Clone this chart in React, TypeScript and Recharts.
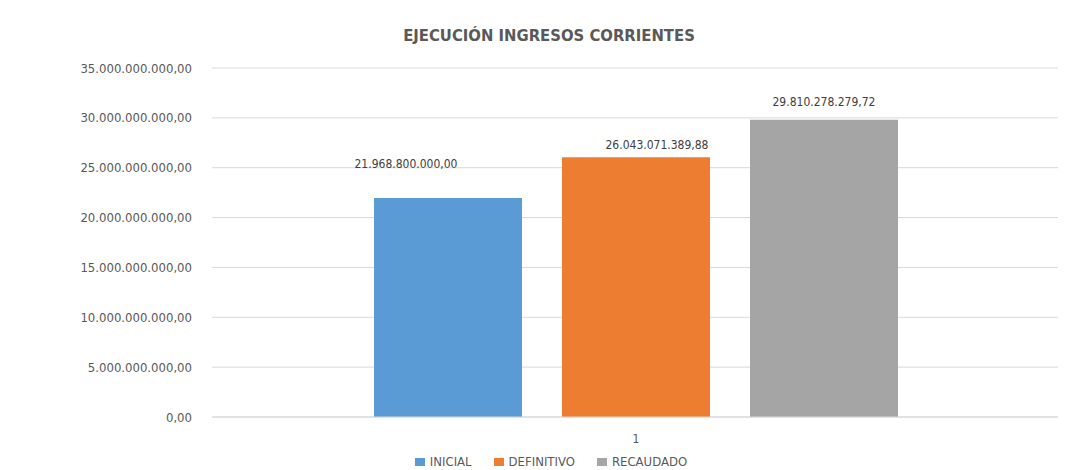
import React from "react";
import {
  Bar,
  BarChart,
  CartesianGrid,
  LabelList,
  Legend,
  XAxis,
  YAxis,
} from "recharts";

const categories = ["1"];
const inicial = [21968800000];
const definitivo = [26043071389.88];
const recaudado = [29810278279.72];
const yTicks = [0, 5e9, 10e9, 15e9, 20e9, 25e9, 30e9, 35e9];

const seriesNames = ["INICIAL", "DEFINITIVO", "RECAUDADO"];
const colors = ["#5b9bd5", "#ed7d31", "#a5a5a5"];

const data = categories.map((c, i) => ({
  name: c,
  INICIAL: inicial[i],
  DEFINITIVO: definitivo[i],
  RECAUDADO: recaudado[i],
}));

const font = "'Liberation Sans Narrow', 'DejaVu Sans Condensed', sans-serif";

function fmt(v: number) {
  const [int, dec] = Number(v).toFixed(2).split(".");
  return int.replace(/\B(?=(\d{3})+(?!\d))/g, ".") + "," + dec;
}

function LegendContent() {
  return (
    <div
      style={{
        display: "flex",
        justifyContent: "center",
        gap: 22,
        fontFamily: font,
        fontSize: 13,
        color: "#595959",
        paddingLeft: 34,
      }}
    >
      {seriesNames.map((n, i) => (
        <span key={n} style={{ display: "flex", alignItems: "center" }}>
          <span
            style={{
              width: 10,
              height: 8,
              background: colors[i],
              display: "inline-block",
              marginRight: 5,
            }}
          />
          {n}
        </span>
      ))}
    </div>
  );
}

// label placement as in the original (some labels sit off-centre)
const labelOffsets = [30, 8, 14];
const labelShift = [-42, 21, 0];

function makeLabel(i: number) {
  return (props: any) => {
    const { x, y, width, value } = props;
    return (
      <text
        x={Number(x) + Number(width) / 2 + labelShift[i]}
        y={Number(y) - labelOffsets[i]}
        textAnchor="middle"
        fontSize={12}
        fill="#404040"
        fontFamily={font}
      >
        {fmt(Number(value))}
      </text>
    );
  };
}

export default function App() {
  return (
    <div style={{ position: "relative", width: 1058, height: 462 }}>
      <div
        style={{
          position: "absolute",
          top: 18,
          left: 0,
          width: 1082,
          textAlign: "center",
          fontFamily: font,
          fontSize: 16.5,
          fontWeight: "bold",
          color: "#595959",
        }}
      >
        EJECUCIÓN INGRESOS CORRIENTES
      </div>
      <BarChart
        width={1058}
        height={462}
        data={data}
        margin={{ top: 60, right: 6, bottom: 0, left: 0 }}
        barSize={148}
        barGap={40}
      >
        <CartesianGrid vertical={false} stroke="#d9d9d9" />
        <XAxis
          dataKey="name"
          tickLine={false}
          axisLine={{ stroke: "#d9d9d9" }}
          height={24}
          tickMargin={11}
          tick={{ fontSize: 12, fill: "#595959", fontFamily: font }}
        />
        <YAxis
          width={204}
          domain={[0, 35e9]}
          ticks={yTicks}
          tickFormatter={fmt}
          tickLine={false}
          axisLine={false}
          tickSize={0}
          tickMargin={20}
          tick={{ fontSize: 13, fill: "#595959", fontFamily: font }}
        />
        <Legend
          verticalAlign="bottom"
          content={<LegendContent />}
          wrapperStyle={{ height: 29, paddingTop: 13, boxSizing: "border-box" }}
        />
        {seriesNames.map((n, i) => (
          <Bar key={n} dataKey={n} fill={colors[i]} isAnimationActive={false}>
            <LabelList dataKey={n} content={makeLabel(i)} />
          </Bar>
        ))}
      </BarChart>
    </div>
  );
}
